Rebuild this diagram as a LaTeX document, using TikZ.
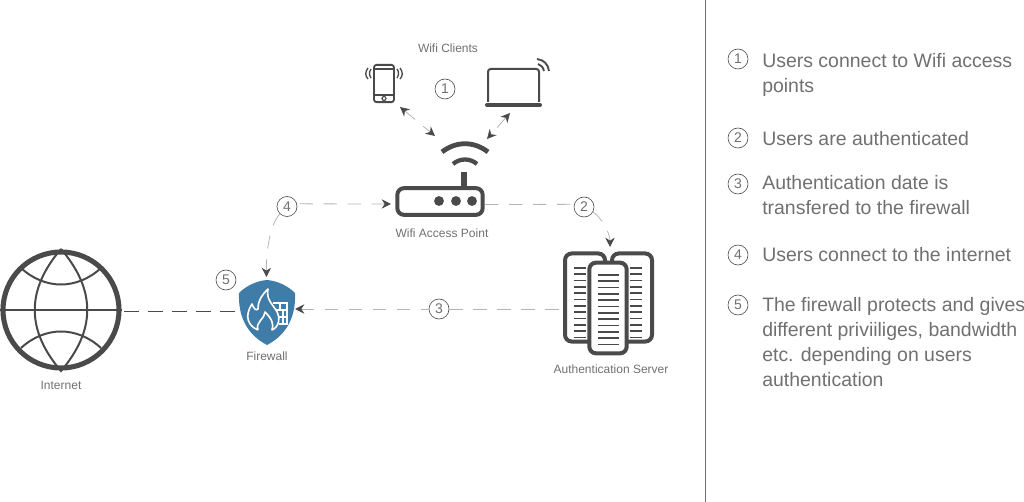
\documentclass[tikz,border=0pt]{standalone}
\usepackage{fontspec}
\setmainfont{Liberation Sans}
\usetikzlibrary{arrows.meta}
\definecolor{iconc}{HTML}{4A4A4A}
\definecolor{textc}{HTML}{707070}
\definecolor{dashc}{HTML}{B4B4B4}
\definecolor{shieldc}{HTML}{3F7CA8}
\tikzset{
  numc/.style={circle,draw=iconc,line width=0.45pt,fill=white,inner sep=0pt,minimum size=15pt,text=textc,font=\fontsize{10.5}{12}\selectfont},
  caption/.style={text=textc,inner sep=0pt,font=\fontsize{9}{11}\selectfont},
  listtext/.style={text=textc,inner sep=0pt,anchor=north west,align=left,font=\fontsize{14.6}{18.75}\selectfont},
  thin icon/.style={draw=iconc,line width=1.5pt},
  linkline/.style={draw=dashc,line width=0.6pt,dash pattern=on 10pt off 8pt},
  linkboth/.style={linkline,{Stealth[length=7pt,width=7pt,color=iconc]}-{Stealth[length=7pt,width=7pt,color=iconc]}},
  linkend/.style={linkline,-{Stealth[length=7pt,width=7pt,color=iconc]}},
  linkstart/.style={linkline,{Stealth[length=7pt,width=7pt,color=iconc]}-},
  linkdark/.style={draw=iconc,line width=0.7pt,dash pattern=on 11pt off 7pt}
}
\begin{document}
\begin{tikzpicture}[x=0.75pt,y=-0.75pt]
 \useasboundingbox (0,0) rectangle (1024,502);
 \draw[draw=textc,line width=0.7pt] (705,0) -- (705,502);

 % globe
 \node (globe) at (61,310) [circle,draw=iconc,line width=3.8pt,minimum size=87pt,inner sep=0pt] {};
 \draw[thin icon] (globe.west) -- (globe.east);
 \draw[thin icon] (61,249) .. controls (26,290) and (26,330) .. (61,371)
   .. controls (96,330) and (96,290) .. (61,249);
 \draw[thin icon] (21,268) .. controls (45,290) and (77,290) .. (101,268);
 \draw[thin icon] (21,348) .. controls (45,326) and (77,326) .. (101,348);
 \node (internet) at (61,385) [caption] {Internet};

 % firewall
 \fill[shieldc] (267,280) .. controls (278,281) and (288,286) .. (295,293)
   .. controls (296,315) and (288,334) .. (267,345)
   .. controls (246,334) and (238,315) .. (239,293)
   .. controls (246,286) and (256,281) .. (267,280) -- cycle;
 \draw[white,line width=1.2pt,line join=round] (258,330)
   .. controls (248,326) and (244,316) .. (252,304)
   .. controls (254,309) and (256,311) .. (258,309)
   .. controls (258,300) and (262,295) .. (268,289)
   .. controls (266,299) and (272,304) .. (276,310)
   .. controls (281,318) and (279,327) .. (272,330)
   .. controls (274,324) and (272,319) .. (265,312)
   .. controls (265,319) and (255,322) .. (258,330);
 \draw[white,line width=1pt] (273,303) -- (287,303) -- (287,324) -- (279,324) (276,310) -- (287,310) (279,317) -- (287,317)
   (280,303) -- (280,310) (283,310) -- (283,317) (283,317) -- (283,324);
 \node (firewall) at (267,356) [caption] {Firewall};

 % router
 \node (router) at (440,201.5) [rectangle,rounded corners=5pt,draw=iconc,line width=3pt,minimum width=64pt,minimum height=20pt,inner sep=0pt] {};
 \foreach \x in {439,456,472} \fill[iconc] (\x,201) circle (3.7pt);
 \draw[draw=iconc,line width=3.8pt] (464,172) -- (464,187);
 \draw[draw=iconc,line width=3.6pt] (442,152) .. controls (456,141) and (474,141) .. (488,152);
 \draw[draw=iconc,line width=3.2pt] (453,164) .. controls (460,158) and (470,158) .. (477,164);
 \node (ap) at (442,233) [caption] {Wifi Access Point};

 % clients
 \node (phone) at (384,83.5) [rectangle,rounded corners=2pt,draw=iconc,line width=1.4pt,minimum width=15pt,minimum height=28pt,inner sep=0pt] {};
 \draw[draw=iconc,line width=1.2pt] (374,69) -- (394,69) (374,95) -- (394,95);
 \draw[draw=iconc,line width=0.9pt] (384,98.5) circle (1.5pt);
 \draw[draw=iconc,line width=1pt] (368,68) .. controls (365,72) and (365,76) .. (368,79)
   (371,69) .. controls (369,72) and (369,75) .. (371,78)
   (397,69) .. controls (399,72) and (399,75) .. (397,78)
   (400,68) .. controls (403,72) and (403,76) .. (400,79);
 \draw[draw=iconc,line width=1.5pt,rounded corners=2pt] (488,102) -- (488,69) -- (539,69) -- (539,102);
 \draw[draw=iconc,line width=3pt,line cap=round] (487,105) -- (540,105);
 \draw[draw=iconc,line width=1.4pt] (537,59) .. controls (544,60) and (548,64) .. (549,71)
   (538,64) .. controls (541,65) and (543,67) .. (544,71);
 \node (clients) at (448,48) [caption] {Wifi Clients};

 % server
 \node (srvl) at (585,297.5) [rectangle,rounded corners=5pt,draw=iconc,line width=3pt,minimum width=30pt,minimum height=66pt,inner sep=0pt] {};
 \node (srvr) at (632,297.5) [rectangle,rounded corners=5pt,draw=iconc,line width=3pt,minimum width=30pt,minimum height=66pt,inner sep=0pt] {};
 \foreach \y in {0,...,11} {
  \draw[draw=iconc,line width=1.2pt] (574,268+\y*6.3) -- (586,268+\y*6.3);
  \draw[draw=iconc,line width=1.2pt] (630,268+\y*6.3) -- (642,268+\y*6.3);
 }
 \node (srvm) at (608,308) [rectangle,rounded corners=5pt,fill=white,draw=iconc,line width=3pt,minimum width=28pt,minimum height=68pt,inner sep=0pt] {};
 \foreach \y in {0,...,11}
  \draw[draw=iconc,line width=1.2pt] (598,275+\y*6.3) -- (619,275+\y*6.3);
 \node (auth) at (611,369) [caption] {Authentication Server};

 % numbers in the drawing
 \node (n1) at (445,89) [numc] {1};
 \node (n2) at (584,207) [numc] {2};
 \node (n3) at (439,309) [numc] {3};
 \node (n4) at (287,206.5) [numc] {4};
 \node (n5) at (226,280) [numc] {5};

 % links
 \coordinate (pa) at (400,107);
 \coordinate (pb) at (435,136);
 \coordinate (la) at (510,113);
 \coordinate (lb) at (487,139);
 \coordinate (rtl) at (391,204);
 \coordinate (rtr) at (485,204.5);
 \coordinate (srvtop) at (610,247);
 \coordinate (fwtop) at (266.5,277);
 \coordinate (fwright) at (295,309);
 \coordinate (srvleft) at (562,309);
 \coordinate (gbr) at (124,311);
 \coordinate (fwleft) at (239,311);
 \draw[linkboth] (pa) -- (pb);
 \draw[linkboth] (la) -- (lb);
 \draw[linkstart] (rtl) -- (n4.15);
 \draw[linkend] (n4) .. controls (272,222) and (266,245) .. (fwtop);
 \draw[linkline] (rtr) -- (n2.165);
 \draw[linkend] (n2) .. controls (600,216) and (610,232) .. (srvtop);
 \draw[linkstart] (fwright) -- (n3);
 \draw[linkline] (n3) -- (srvleft);
 \draw[linkdark] (gbr) -- (fwleft);

 % list on the right
 \node (l1) at (738,59) [numc] {1};
 \node (l2) at (738,138) [numc] {2};
 \node (l3) at (738,184) [numc] {3};
 \node (l4) at (738,255) [numc] {4};
 \node (l5) at (738,305) [numc] {5};
 \node (t1) at (762,53) [listtext] {Users connect to Wifi access\\points};
 \node (t2) at (762,131) [listtext] {Users are authenticated};
 \node (t3) at (762,175) [listtext] {Authentication date is\\transfered to the firewall};
 \node (t4) at (762,247) [listtext] {Users connect to the internet};
 \node (t5) at (762,297) [listtext] {The firewall protects and gives\\different priviiliges, bandwidth\\etc. depending on users\\authentication};
\end{tikzpicture}
\end{document}
